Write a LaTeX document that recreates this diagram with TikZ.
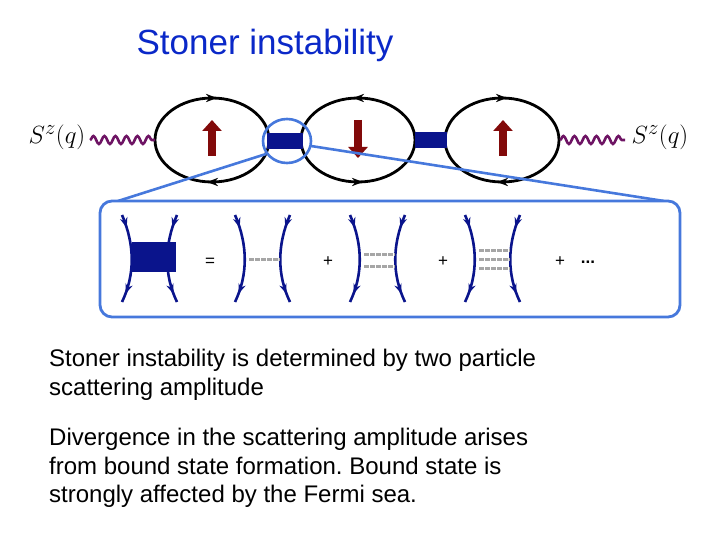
\documentclass[tikz,border=0pt]{standalone}
\usepackage{fontspec}
\setmainfont{Liberation Sans}
\frenchspacing
\usetikzlibrary{decorations.pathmorphing,decorations.markings,arrows.meta}
\definecolor{dblue}{RGB}{10,20,140}
\definecolor{tblue}{RGB}{10,40,200}
\definecolor{lblue}{RGB}{70,120,220}
\definecolor{dred}{RGB}{130,10,10}
\definecolor{wvpurple}{RGB}{110,20,100}
\tikzset{
  loopline/.style={black, line width=2.8pt},
  legline/.style={dblue, line width=2.6pt, postaction={decorate},
    decoration={markings, mark=at position 0.15 with {\arrow{Stealth[length=10pt]}},
      mark=at position 0.9 with {\arrow{Stealth[length=10pt]}}}},
  spinarrow/.style={dred, line width=8pt, -{Triangle[length=11pt,width=19pt]}},
  wave/.style={wvpurple, line width=2.6pt, decorate,
    decoration={snake, amplitude=4pt, segment length=11pt}},
  rungline/.style={gray!70, line width=3pt, dash pattern=on 5pt off 1pt},
  signtext/.style={font=\fontsize{17}{18}\selectfont},
}
\begin{document}
\begin{tikzpicture}[x=1pt,y=-1pt]
		\useasboundingbox (0,0) rectangle (720,540);
		\node[font=\fontsize{35}{40}\selectfont, text=tblue] (title) at (265,45) {Stoner instability};
		% bubbles
		\draw[loopline] (212,140) ellipse (57 and 42);
		\draw[loopline] (358,140) ellipse (57 and 42);
		\draw[loopline] (502,140) ellipse (57 and 42);
		\foreach \x/\d in {212/1,358/-1,502/1}{
			\draw[-{Stealth[length=11pt]}, line width=2.6pt] (\x-\d*5,98) -- (\x+\d*5,98);
			\draw[-{Stealth[length=11pt]}, line width=2.6pt] (\x+\d*5,182) -- (\x-\d*5,182);
		}
		\fill[dblue] (267,133) rectangle (303,149);
		\fill[dblue] (415,132) rectangle (447,148);
		\draw[spinarrow] (212,156) -- (212,120);
		\draw[spinarrow] (358,120) -- (358,158);
		\draw[spinarrow] (503,156) -- (503,120);
		\draw[wave] (90,140) -- (155,140);
		\draw[wave] (560,140) -- (625,140);
		\node[font=\fontsize{28}{30}\selectfont] (szl) at (57,137) {$S^z(q)$};
		\node[font=\fontsize{28}{30}\selectfont] (szr) at (660,137) {$S^z(q)$};
		% zoom
		\draw[lblue, line width=2.6pt] (287,141) ellipse (24 and 22);
		\draw[lblue, line width=2.6pt] (266,154) -- (118,201);
		\draw[lblue, line width=2.6pt] (311,146) -- (664,201);
		\draw[lblue, line width=2.8pt, rounded corners=12pt, fill=white] (100,201) rectangle (680,317);
		% ladder terms
		\foreach \c in {155,268,383,498}{
			\draw[legline] (\c-33,215) .. controls (\c-20,245) and (\c-20,275) .. (\c-33,302);
			\draw[legline] (\c+22,215) .. controls (\c+9,245) and (\c+9,275) .. (\c+22,302);
		}
		\fill[dblue] (132,242) rectangle (176,272);
		\draw[rungline] (249,259) -- (280,259);
		\foreach \y in {254,266} \draw[rungline] (364,\y) -- (395,\y);
		\foreach \y in {250,259,268} \draw[rungline] (479,\y) -- (510,\y);
		\node[signtext] (eq) at (210,262) {=};
		\node[signtext] (p1) at (328,262) {+};
		\node[signtext] (p2) at (443,262) {+};
		\node[signtext] (p3) at (560,262) {+};
		\node[signtext] (dots) at (588,262) {\textbf{...}};
		% text
		\node[anchor=north west, align=left, inner sep=0pt, font=\fontsize{24}{28.5}\selectfont] (t1) at (49,349)
			{Stoner instability is determined by two particle\\scattering amplitude};
		\node[anchor=north west, align=left, inner sep=0pt, font=\fontsize{24}{28.5}\selectfont] (t2) at (49,428)
			{Divergence in the scattering amplitude arises\\from bound state formation. Bound state is\\strongly affected by the Fermi sea.};
	\end{tikzpicture}
\end{document}
